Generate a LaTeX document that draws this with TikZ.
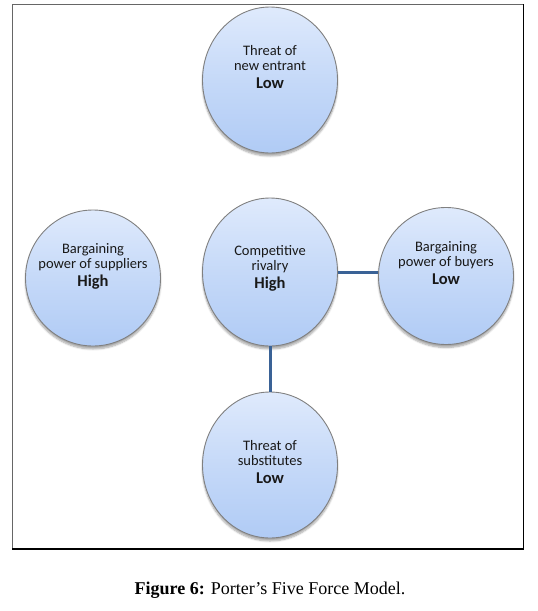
\documentclass[tikz,border=0pt]{standalone}
\usepackage{fontspec}
\setmainfont{Liberation Serif}
\newfontfamily\forcefont{Carlito}
\usetikzlibrary{shapes.geometric, shadows.blur}

\definecolor{ovaltop}{RGB}{223,234,252}
\definecolor{ovalbottom}{RGB}{176,203,245}
\definecolor{ovalrim}{RGB}{128,128,128}
\definecolor{linkblue}{RGB}{58,98,150}

\newcommand{\forcerating}[1]{{\bfseries\fontsize{16.5}{18}\selectfont #1}}

\tikzset{
    force/.style={ellipse, draw=ovalrim, line width=0.9pt, top color=ovaltop, bottom color=ovalbottom,
        middle color=ovaltop!45!ovalbottom, minimum width=135pt, minimum height=146pt, inner sep=0pt,
        blur shadow={shadow xshift=0pt, shadow yshift=-3pt, shadow blur steps=6, shadow opacity=35}},
    forcetext/.style={align=center, font=\forcefont\fontsize{14.5}{15.5}\selectfont, text=black!90},
    link/.style={draw=linkblue, line width=3pt}
}

\begin{document}
\begin{tikzpicture}[x=1pt, y=-1pt]
    \useasboundingbox (0,0) rectangle (538,611);
    % Frame
    \draw[black!60, line width=1pt] (12,549) -- (12,4) -- (523,4);
    \draw[black, line width=1pt] (523,4) -- (523,549);
    \draw[black, line width=2pt] (12,549) -- (524,549);

    % Draw nodes
    \node[force] (entrant) at (270,80) {};
    \node[force, minimum height=136pt] (suppliers) at (93,278) {};
    \node[force, minimum height=148pt] (rivalry) at (270,272) {};
    \node[force, minimum height=137pt] (buyers) at (446,276) {};
    \node[force] (substitutes) at (270,465) {};

    % Draw connections
    \draw[link] (rivalry.east) -- (rivalry.east -| buyers.west);
    \draw[link] (rivalry.south) -- (substitutes.north);

    % Labels
    \node[forcetext] (entranttext) at ([yshift=13pt]entrant.center) {Threat of\\new entrant\\[2pt]\forcerating{Low}};
    \node[forcetext] (supplierstext) at ([yshift=12pt]suppliers.center) {Bargaining\\power of suppliers\\[2pt]\forcerating{High}};
    \node[forcetext] (rivalrytext) at ([yshift=4pt]rivalry.center) {Competitive\\rivalry\\[2pt]\forcerating{High}};
    \node[forcetext] (buyerstext) at ([yshift=13pt]buyers.center) {Bargaining\\power of buyers\\[2pt]\forcerating{Low}};
    \node[forcetext] (substitutestext) at ([yshift=3pt]substitutes.center) {Threat of\\substitutes\\[2pt]\forcerating{Low}};

    % Caption
    \node[font=\fontsize{18}{21}\selectfont] (caption) at (270,590) {\textbf{Figure 6:} Porter’s Five Force Model.};
\end{tikzpicture}
\end{document}
